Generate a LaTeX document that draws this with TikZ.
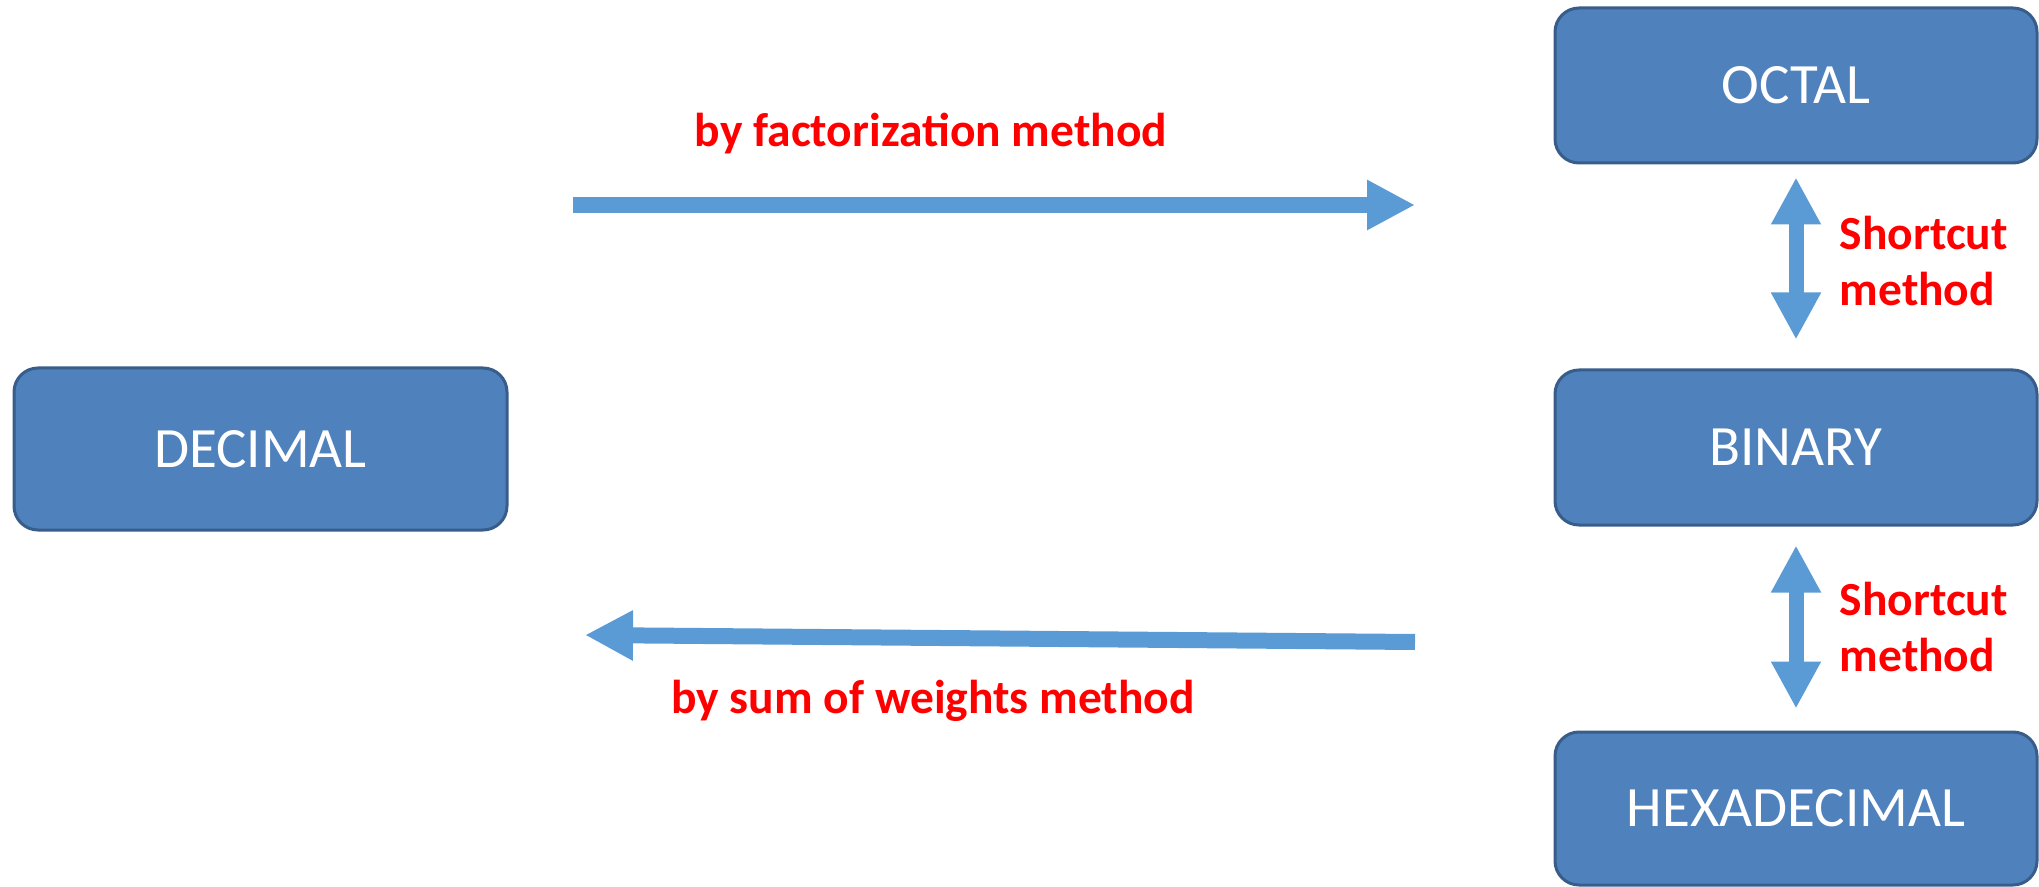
\documentclass[tikz,border=0pt]{standalone}
\usepackage{fontspec}
\setmainfont{Carlito}
\usetikzlibrary{arrows.meta}

\definecolor{boxfill}{RGB}{79,129,189}
\definecolor{boxline}{RGB}{56,93,138}
\definecolor{arrowblue}{RGB}{91,155,213}
\definecolor{labelred}{RGB}{255,0,0}

\tikzset{every picture/.style={line width=0.75pt}}
\tikzset{
  basebox/.style={draw=boxline, line width=1.5pt, fill=boxfill, rounded corners=12pt,
    text=white, font=\fontsize{28.5}{34}\selectfont, inner sep=0pt},
  bigarrow/.style={draw=arrowblue, line width=8pt,
    -{Triangle[width=23.5pt,length=24pt]}},
  shortcut/.style={draw=arrowblue, line width=7.5pt,
    {Triangle[width=23.5pt,length=23.5pt]}-{Triangle[width=23.5pt,length=23.5pt]}},
  redlabel/.style={text=labelred, font=\bfseries\fontsize{23.75}{28}\selectfont, inner sep=0pt}
}

\begin{document}
\begin{tikzpicture}[x=0.5pt,y=0.5pt,yscale=-1,xscale=1]
\useasboundingbox (0,0) rectangle (2039,887);

%Shape: Rounded Rect
\node (decimal) [basebox, minimum width=246.5pt, minimum height=81pt] at (260.5,449) {DECIMAL};
%Shape: Rounded Rect
\node (octal) [basebox, minimum width=241pt, minimum height=77.5pt] at (1796,85.5) {OCTAL};
%Shape: Rounded Rect
\node (binary) [basebox, minimum width=241pt, minimum height=77.5pt] at (1796,447.5) {BINARY};
%Shape: Rounded Rect
\node (hexa) [basebox, minimum width=241pt, minimum height=76.5pt] at (1796,808.5) {HEXADECIMAL};

%Arrow ends
\coordinate (facstart) at (573,205);
\coordinate (facend) at (1415,205);
\coordinate (sumstart) at (1415,642);
\coordinate (sumend) at (585,635);

%Block Arrows
\draw [bigarrow] (facstart) -- (facend);
\draw [bigarrow] (sumstart) -- (sumend);
\draw [shortcut, shorten <=6.5pt, shorten >=14.5pt] (octal.south) -- (binary.north);
\draw [shortcut, shorten <=9.5pt, shorten >=11pt] (binary.south) -- (hexa.north);

% Text Node
\node (faclabel) [redlabel, anchor=base] at (931,147) {by factorization method};
% Text Node
\node (sumlabel) [redlabel, anchor=base] at (933,713) {by sum of weights method};
% Text Node
\node (shortA) [redlabel, anchor=base west, align=left] at (1839,306) {Shortcut\\method};
% Text Node
\node (shortB) [redlabel, anchor=base west, align=left] at (1839,671) {Shortcut\\method};

\end{tikzpicture}
\end{document}
